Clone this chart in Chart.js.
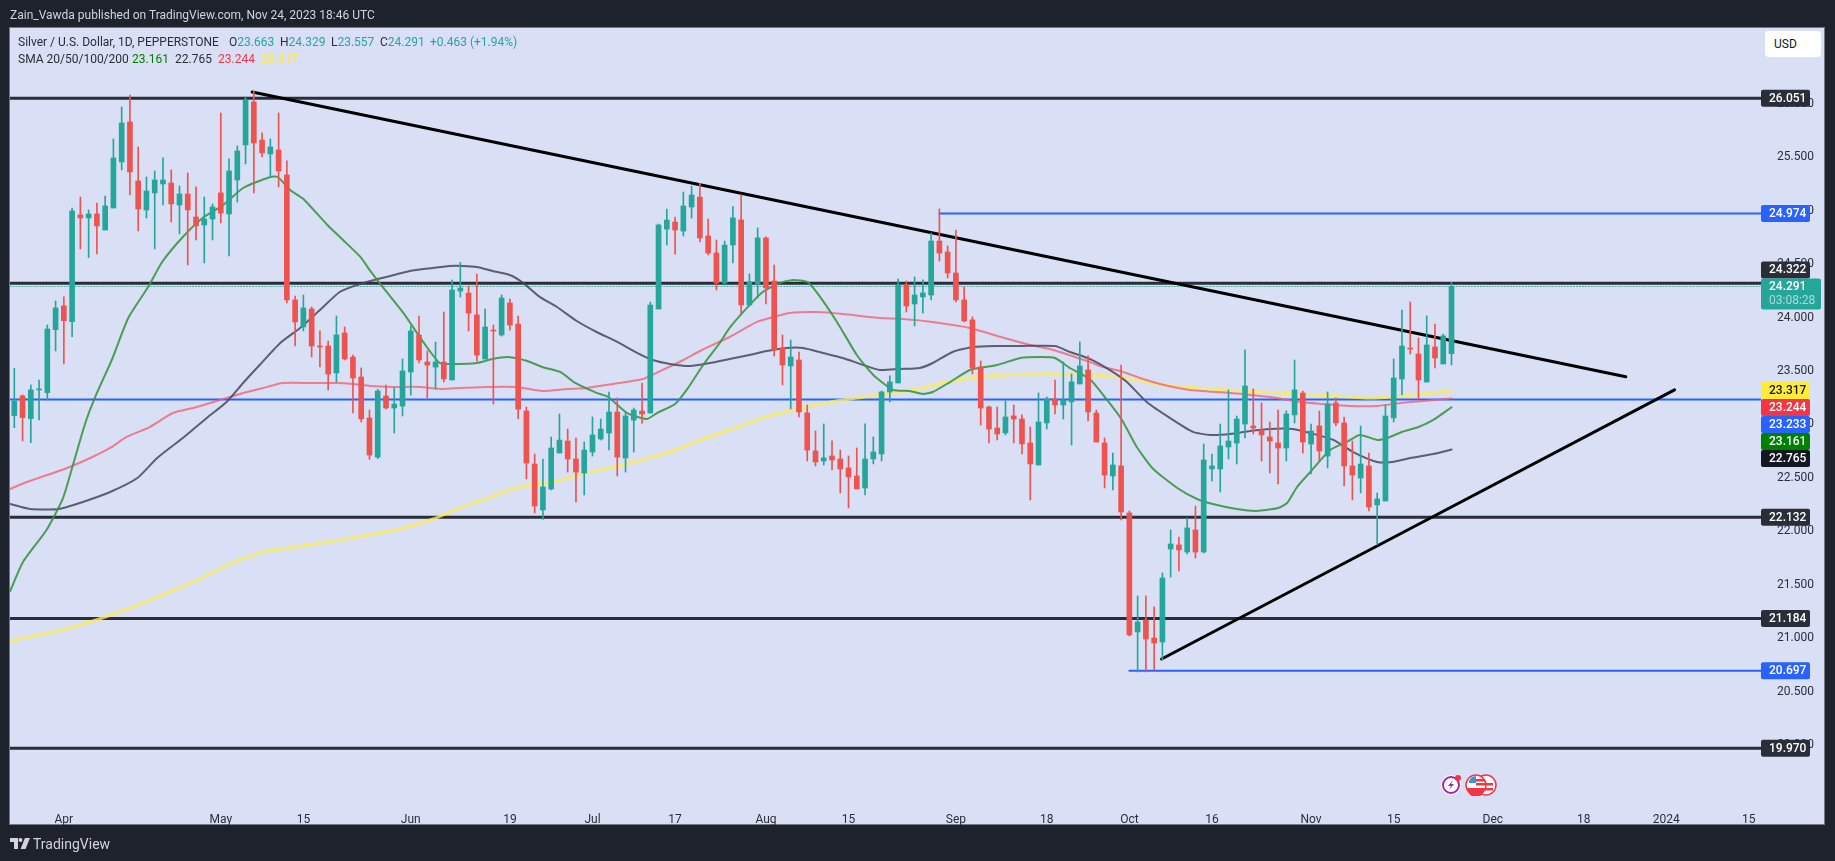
<!DOCTYPE html>
<html lang="en">

<head>
    <meta charset="UTF-8">
    <title>Silver / U.S. Dollar</title>
    <script src="https://cdn.jsdelivr.net/npm/chart.js"></script>
    <style>
        html, body {
            margin: 0;
            padding: 0;
            width: 1835px;
            height: 861px;
            overflow: hidden;
            background: #1e222d;
            font-family: Roboto, sans-serif;
        }

        #frame {
            position: absolute;
            left: 9px;
            top: 27px;
            width: 1816px;
            height: 798px;
            box-sizing: border-box;
            background: #d9dff4;
            border: 1px solid #737684;
        }

        canvas {
            position: absolute;
            left: 0;
            top: 0;
        }

        .txt {
            position: absolute;
            white-space: nowrap;
            font-size: 12px;
            line-height: 16px;
            color: #2a2e39;
        }

        .up {
            color: #26a69a;
        }

        #usd {
            position: absolute;
            left: 1765px;
            top: 31px;
            width: 56px;
            height: 26px;
            box-sizing: border-box;
            padding: 5px 0 0 9px;
            background: #fff;
            border-radius: 4px;
            font-size: 12px;
            line-height: 16px;
            color: #131722;
        }

        svg {
            position: absolute;
        }
    </style>
</head>

<body>
    <div id="frame"></div>
    <canvas id="myChart" width="1835" height="861"></canvas>

    <div class="txt" style="left:10px;top:7px;color:#d1d4dc;">Zain_Vawda published on TradingView.com, Nov 24, 2023 18:46 UTC</div>

    <div class="txt" style="left:18px;top:34px;">Silver / U.S. Dollar, 1D, PEPPERSTONE</div>
    <div class="txt" style="left:229px;top:34px;">O<span class="up">23.663</span></div>
    <div class="txt" style="left:280px;top:34px;">H<span class="up">24.329</span></div>
    <div class="txt" style="left:331px;top:34px;">L<span class="up">23.557</span></div>
    <div class="txt" style="left:380px;top:34px;">C<span class="up">24.291</span></div>
    <div class="txt up" style="left:430px;top:34px;">+0.463 (+1.94%)</div>

    <div class="txt" style="left:18px;top:51px;">SMA 20/50/100/200</div>
    <div class="txt" style="left:132px;top:51px;color:#008000;">23.161</div>
    <div class="txt" style="left:175px;top:51px;">22.765</div>
    <div class="txt" style="left:218px;top:51px;color:#f23645;">23.244</div>
    <div class="txt" style="left:261px;top:51px;color:#ffeb3b;">23.317</div>

    <div id="usd">USD</div>

    <svg style="left:1440px;top:774px;" width="58" height="22" viewBox="0 0 58 22">
        <circle cx="11" cy="11" r="10" fill="#fff" />
        <circle cx="11" cy="11" r="8" fill="none" stroke="#9c27b0" stroke-width="2" />
        <path d="M13 6 L8 12 H11 L9 16 L14 10 H11 Z" fill="#9c27b0" />
        <circle cx="18" cy="4" r="3" fill="#f23645" />
        <circle cx="46" cy="11" r="10" fill="#fff" stroke="#f23645" stroke-width="1.5" />
        <rect x="39" y="9" width="14" height="2.5" fill="#f23645" />
        <rect x="39" y="14" width="14" height="2.5" fill="#f23645" />
        <circle cx="36" cy="11" r="10" fill="#fff" stroke="#f23645" stroke-width="1.5" />
        <path d="M29 7 a9 9 0 0 1 7 -5 v7 h-7 Z" fill="#3d8fe0" />
        <rect x="36" y="5" width="9" height="2.5" fill="#f23645" />
        <rect x="36" y="9" width="10" height="2.5" fill="#f23645" />
        <path d="M27 14 h18 a9 9 0 0 1 -18 0 Z" fill="#f23645" />
    </svg>

    <svg style="left:10px;top:838px;" width="20" height="11" viewBox="0 0 20 11">
        <path d="M0 0 H8 V11 H4 V4 H0 Z" fill="#d1d4dc" />
        <circle cx="10.5" cy="2" r="2" fill="#d1d4dc" />
        <path d="M15 0 H20 L15.5 11 H10.5 Z" fill="#d1d4dc" />
    </svg>
    <div class="txt" style="left:33px;top:836px;color:#d1d4dc;font-size:14px;">TradingView</div>

    <script>

        // daily candles, oldest first
        const opens = [
            23.083, 23.267, 23.055, 23.323, 23.298, 23.887, 24.109, 23.962, 24.960, 24.932,
            24.969, 24.819, 25.025, 25.456, 25.830, 25.278, 25.007, 25.166, 25.250, 25.259,
            25.053, 25.156, 24.941, 24.866, 24.922, 25.166, 24.969, 25.287, 25.615, 26.017,
            25.661, 25.530, 25.568, 25.334, 24.165, 23.912, 24.080, 23.734, 23.734, 23.482,
            23.856, 23.631, 23.444, 23.060, 22.695, 23.266, 23.154, 23.172, 23.491, 23.837,
            23.584, 23.537, 23.584, 23.416, 24.248, 24.229, 24.024, 23.612, 23.883, 23.837,
            24.136, 23.939, 23.126, 22.630, 22.200, 22.396, 22.733, 22.845, 22.677, 22.546,
            22.742, 22.864, 22.920, 23.116, 22.686, 23.041, 23.126, 23.107, 24.080, 24.828,
            24.894, 24.809, 25.034, 25.127, 24.763, 24.604, 24.323, 24.679, 24.913, 24.118,
            24.314, 24.745, 24.342, 23.716, 23.547, 23.603, 23.108, 22.752, 22.659, 22.705,
            22.677, 22.593, 22.518, 22.406, 22.677, 22.724, 23.304, 23.388, 24.305, 24.127,
            24.193, 24.211, 24.716, 24.614, 24.417, 24.165, 23.978, 23.538, 23.164, 22.967,
            22.921, 23.080, 23.051, 22.827, 22.621, 23.014, 23.239, 23.182, 23.211, 23.379,
            23.510, 23.107, 22.827, 22.518, 22.612, 22.172, 21.059, 21.171, 21.003, 20.965,
            21.835, 21.873, 21.807, 22.013, 21.807, 22.584, 22.584, 22.789, 22.827, 23.004,
            22.986, 22.948, 22.883, 22.827, 22.780, 23.089, 23.294, 22.817, 22.986, 22.705,
            23.201, 23.014, 22.612, 22.499, 22.612, 22.247, 22.284, 23.061, 23.425, 23.715,
            23.659, 23.397, 23.725, 23.566, 23.663
        ];
        const highs = [
            23.525, 23.276, 23.370, 23.416, 23.931, 24.155, 24.193, 25.025, 25.128, 25.007,
            25.072, 25.137, 25.671, 25.970, 26.082, 25.596, 25.315, 25.371, 25.493, 25.381,
            25.231, 25.353, 25.222, 25.128, 25.063, 25.914, 25.484, 25.605, 26.064, 26.120,
            25.727, 25.671, 25.914, 25.465, 24.202, 24.211, 24.099, 23.875, 23.781, 24.015,
            23.912, 23.650, 23.529, 23.135, 23.328, 23.369, 23.341, 23.612, 23.921, 24.014,
            23.687, 23.771, 24.052, 24.351, 24.516, 24.295, 24.407, 24.080, 23.930, 24.211,
            24.173, 24.014, 23.163, 22.723, 22.677, 22.882, 23.098, 22.957, 22.873, 22.836,
            23.070, 23.051, 23.303, 23.247, 23.116, 23.154, 23.388, 24.145, 24.875, 25.015,
            24.940, 25.174, 25.230, 25.255, 24.922, 24.725, 24.716, 25.038, 25.147, 24.408,
            24.838, 24.754, 24.492, 23.837, 23.790, 23.678, 23.182, 22.939, 23.005, 22.846,
            22.761, 22.705, 22.780, 23.005, 22.883, 23.313, 23.454, 24.361, 24.342, 24.380,
            24.352, 24.791, 25.016, 24.670, 24.819, 24.286, 24.006, 23.594, 23.173, 23.164,
            23.220, 23.182, 23.089, 22.977, 23.295, 23.257, 23.416, 23.585, 23.472, 23.772,
            23.641, 23.135, 22.874, 22.733, 23.556, 22.191, 21.396, 21.396, 21.293, 21.611,
            22.013, 21.947, 22.125, 22.237, 22.817, 22.724, 23.004, 23.323, 23.079, 23.697,
            23.332, 23.201, 23.023, 23.135, 23.126, 23.603, 23.313, 23.004, 23.126, 23.304,
            23.248, 23.070, 22.845, 22.986, 22.733, 22.359, 23.182, 23.613, 24.071, 24.146,
            23.809, 24.015, 23.940, 23.846, 24.329
        ];
        const lows = [
            22.970, 22.846, 22.830, 23.042, 23.229, 23.688, 23.566, 23.822, 24.642, 24.561,
            24.595, 24.819, 25.025, 25.381, 25.147, 24.810, 24.932, 24.642, 25.053, 24.894,
            24.782, 24.492, 24.726, 24.511, 24.726, 24.885, 24.576, 25.081, 25.437, 25.166,
            25.502, 25.315, 25.222, 24.137, 23.734, 23.875, 23.631, 23.538, 23.323, 23.398,
            23.603, 23.108, 23.023, 22.674, 22.680, 23.144, 22.920, 23.079, 23.275, 23.575,
            23.247, 23.331, 23.397, 23.416, 24.192, 23.874, 23.593, 23.612, 23.191, 23.827,
            23.883, 23.051, 22.490, 22.172, 22.112, 22.387, 22.733, 22.555, 22.274, 22.340,
            22.705, 22.854, 22.761, 22.518, 22.555, 22.742, 23.013, 23.107, 24.080, 24.678,
            24.594, 24.763, 24.931, 24.707, 24.585, 24.258, 24.304, 24.511, 24.034, 24.108,
            24.183, 24.127, 23.641, 23.370, 23.145, 23.070, 22.659, 22.612, 22.621, 22.574,
            22.359, 22.219, 22.397, 22.341, 22.631, 22.659, 23.211, 23.388, 24.052, 23.921,
            24.043, 24.165, 24.529, 24.370, 24.146, 23.959, 23.472, 22.995, 22.827, 22.855,
            22.902, 22.827, 22.724, 22.294, 22.621, 22.958, 23.098, 23.051, 22.808, 23.379,
            23.033, 22.836, 22.406, 22.387, 22.106, 21.021, 20.685, 20.685, 20.703, 20.797,
            21.573, 21.629, 21.788, 21.751, 21.798, 22.471, 22.368, 22.677, 22.630, 22.874,
            22.911, 22.658, 22.546, 22.443, 22.658, 23.014, 22.733, 22.537, 22.658, 22.593,
            22.986, 22.425, 22.294, 22.359, 22.191, 21.873, 22.284, 23.023, 23.276, 23.659,
            23.238, 23.397, 23.528, 23.566, 23.557
        ];
        const closes = [
            23.220, 23.064, 23.323, 23.332, 23.893, 24.090, 23.971, 24.997, 24.932, 24.969,
            24.857, 25.044, 25.493, 25.820, 25.362, 25.016, 25.184, 25.287, 25.287, 25.063,
            25.156, 25.007, 24.857, 24.922, 25.035, 24.978, 25.371, 25.558, 26.035, 25.633,
            25.540, 25.596, 25.371, 24.165, 23.959, 24.090, 23.734, 23.725, 23.472, 23.837,
            23.613, 23.435, 23.052, 22.714, 23.313, 23.154, 23.191, 23.500, 23.874, 23.603,
            23.556, 23.584, 23.425, 24.258, 24.276, 24.042, 23.650, 23.911, 23.874, 24.183,
            23.930, 23.144, 22.639, 22.237, 22.415, 22.780, 22.854, 22.677, 22.555, 22.761,
            22.901, 22.957, 23.116, 22.695, 23.079, 23.135, 23.098, 24.117, 24.866, 24.912,
            24.819, 25.043, 25.146, 24.744, 24.604, 24.323, 24.678, 24.932, 24.118, 24.333,
            24.745, 24.277, 23.697, 23.557, 23.631, 23.117, 22.761, 22.649, 22.687, 22.668,
            22.584, 22.509, 22.397, 22.677, 22.743, 23.304, 23.398, 24.305, 24.108, 24.211,
            24.230, 24.716, 24.604, 24.417, 24.165, 23.968, 23.529, 23.154, 22.958, 22.911,
            23.070, 23.051, 22.818, 22.631, 23.023, 23.239, 23.182, 23.229, 23.398, 23.547,
            23.117, 22.836, 22.527, 22.621, 22.181, 21.031, 21.152, 20.993, 20.956, 21.564,
            21.882, 21.826, 22.032, 21.807, 22.668, 22.612, 22.799, 22.845, 23.051, 23.360,
            22.967, 22.902, 22.845, 22.780, 23.098, 23.323, 22.836, 22.939, 22.752, 23.192,
            23.014, 22.612, 22.527, 22.630, 22.228, 22.303, 23.079, 23.435, 23.734, 23.706,
            23.416, 23.743, 23.622, 23.828, 24.291
        ];

        // moving averages at the listed bar positions
        const sma20Bars = [-0.5, 1.05, 3.9, 5.9, 7.1, 8.6, 9.9, 11.8, 13.8, 16.2, 17.9, 20.4, 22.8, 25.3, 27.7, 31, 31.9, 33.4, 35, 37.9, 39.8, 41.9, 43.1, 44.6, 47.1, 49.5, 51.5, 53.1, 56, 57.9, 59.8, 62.1, 63.9, 66.1, 67.9, 70.5, 71.9, 74.2, 76.6, 77.8, 80, 81.4, 83.4, 85.4, 86.6, 88.7, 90.6, 92.7, 94.3, 96, 97.2, 99.6, 102, 104, 106.4, 108.4, 110, 111.2, 113.3, 115.7, 119, 121.8, 124.2, 126, 127.8, 130.2, 132.3, 134.1, 135.9, 137.9, 140.8, 143.2, 145.1, 148, 150.4, 153, 154.1, 155.3, 156.9, 159.3, 161.3, 162.9, 165, 166.2, 168, 170, 171.8, 174];
        const sma20 = [21.442, 21.714, 22.013, 22.312, 22.621, 23.014, 23.276, 23.603, 23.996, 24.286, 24.520, 24.754, 24.932, 25.053, 25.212, 25.315, 25.315, 25.194, 25.109, 24.866, 24.726, 24.567, 24.436, 24.286, 24.043, 23.772, 23.575, 23.566, 23.575, 23.613, 23.631, 23.594, 23.538, 23.491, 23.388, 23.295, 23.257, 23.107, 23.051, 23.107, 23.192, 23.323, 23.556, 23.762, 23.903, 24.090, 24.239, 24.324, 24.352, 24.333, 24.230, 23.959, 23.650, 23.463, 23.323, 23.313, 23.285, 23.304, 23.397, 23.510, 23.556, 23.622, 23.631, 23.622, 23.528, 23.425, 23.229, 23.042, 22.789, 22.583, 22.406, 22.303, 22.256, 22.209, 22.191, 22.219, 22.265, 22.415, 22.555, 22.761, 22.836, 22.902, 22.855, 22.873, 22.930, 22.976, 23.042, 23.161];

        const sma50Bars = [-0.5, 1.9, 5.4, 8.3, 11.6, 14.9, 17.3, 20.4, 23.3, 25.7, 27.7, 29.7, 32.2, 34.6, 37, 39.4, 41.5, 43.1, 45.5, 47.9, 50.7, 52.7, 54.3, 56, 57.9, 60, 61.6, 63.6, 65.7, 68.1, 70.5, 73, 75.4, 77.3, 79.4, 81.8, 84.2, 86.6, 89, 91.1, 93.5, 95.5, 97.9, 100.3, 102.8, 104.8, 107.2, 109.6, 111.2, 113.6, 116.1, 119, 121.8, 126, 127.8, 130.2, 132.6, 134.7, 137.1, 139.9, 142.7, 144.8, 147.2, 149.6, 152, 154.8, 156.9, 159.7, 162.1, 165, 166.8, 169, 171.8, 174];
        const sma50 = [22.256, 22.209, 22.209, 22.275, 22.368, 22.499, 22.686, 22.873, 23.061, 23.210, 23.388, 23.556, 23.762, 23.903, 24.071, 24.239, 24.305, 24.342, 24.389, 24.436, 24.464, 24.483, 24.483, 24.473, 24.436, 24.398, 24.324, 24.193, 24.099, 23.968, 23.865, 23.772, 23.669, 23.603, 23.566, 23.547, 23.575, 23.613, 23.650, 23.687, 23.715, 23.715, 23.669, 23.622, 23.556, 23.510, 23.519, 23.528, 23.575, 23.678, 23.725, 23.734, 23.734, 23.734, 23.678, 23.613, 23.510, 23.397, 23.210, 23.061, 22.930, 22.902, 22.911, 22.939, 22.958, 22.958, 22.920, 22.855, 22.742, 22.649, 22.649, 22.686, 22.724, 22.765];

        const sma100Bars = [-0.5, 1.5, 4, 6.4, 9.2, 11.6, 13.6, 16.4, 19.2, 22.1, 24.9, 27.7, 30.1, 32.5, 35.8, 39.1, 41, 43.1, 45.8, 49.1, 51.8, 54, 57.2, 60.8, 63.9, 66.9, 69.3, 72.5, 76.1, 78.5, 81, 83, 86.6, 89.9, 91.9, 93.9, 97.2, 100.3, 104.8, 107.6, 111.2, 115.7, 119, 123, 125.8, 130.2, 131.8, 133.9, 136.3, 138.7, 142.3, 147.2, 152, 155.7, 158.4, 161.7, 165, 167.8, 170.6, 174];
        const sma100 = [22.396, 22.462, 22.527, 22.593, 22.686, 22.780, 22.883, 22.976, 23.107, 23.164, 23.229, 23.295, 23.341, 23.388, 23.388, 23.388, 23.379, 23.360, 23.351, 23.351, 23.332, 23.341, 23.351, 23.351, 23.313, 23.332, 23.341, 23.379, 23.425, 23.510, 23.603, 23.687, 23.818, 23.959, 24.005, 24.043, 24.052, 24.034, 23.996, 23.987, 23.959, 23.903, 23.828, 23.744, 23.697, 23.585, 23.538, 23.500, 23.435, 23.379, 23.323, 23.295, 23.257, 23.210, 23.192, 23.173, 23.173, 23.201, 23.220, 23.244];

        const sma200Bars = [-0.5, 6.7, 12.4, 16.7, 21.6, 26.6, 30.1, 36.5, 40.8, 46.1, 50.7, 53.6, 56.7, 60, 62.4, 65.7, 68.8, 72.1, 75.4, 79.4, 83.4, 86.6, 90.6, 94.8, 98.8, 102.8, 106.9, 110, 112.9, 115.7, 119.7, 125, 130.2, 133.9, 138.3, 143.2, 148.8, 155.3, 160.1, 164.1, 166.6, 170.6, 174];
        const sma200 = [20.974, 21.096, 21.236, 21.367, 21.526, 21.713, 21.807, 21.882, 21.938, 22.013, 22.116, 22.209, 22.293, 22.387, 22.434, 22.471, 22.537, 22.593, 22.658, 22.742, 22.864, 22.948, 23.061, 23.145, 23.210, 23.257, 23.304, 23.341, 23.397, 23.435, 23.463, 23.472, 23.463, 23.444, 23.379, 23.341, 23.313, 23.285, 23.266, 23.248, 23.257, 23.285, 23.317];

        // drawn levels and trend lines
        const blackLevels = [26.051, 24.322, 22.132, 21.184, 19.970];
        const midLevel = 23.233;
        const resistanceLevel = 24.974;
        const resistanceStartBar = 112;
        const supportLevel = 20.697;
        const supportStartBar = 135;
        const lastClose = 24.291;
        const fallingTrendBars = [28.8, 195.1];
        const fallingTrend = [26.110, 23.447];
        const risingTrendBars = [138.9, 201];
        const risingTrend = [20.806, 23.323];

        // axes
        const tickBars = [6, 25, 35, 48, 60, 70, 80, 91, 101, 114, 125, 135, 145, 157, 167, 179, 190, 200, 210];
        const tickLabels = ['Apr', 'May', '15', 'Jun', '19', 'Jul', '17', 'Aug', '15', 'Sep', '18', 'Oct', '16', 'Nov', '15', 'Dec', '18', '2024', '15'];
        const priceTicks = [26, 25.5, 25, 24.5, 24, 23.5, 23, 22.5, 22, 21.5, 21, 20.5, 20];

        // price tags on the right, cluster is pushed down so it does not overlap
        const levelTags = [26.051, 24.974, 22.132, 21.184, 20.697, 19.970];
        const levelTagColors = ['#2a2e39', '#2962ff', '#2a2e39', '#2a2e39', '#2962ff', '#2a2e39'];
        const stackedTags = [23.317, 23.244, 23.233, 23.161, 22.765];
        const stackedTagColors = ['#ffeb3b', '#f23645', '#2962ff', '#008000', '#131722'];
        const stackedTagText = ['#131722', '#fff', '#fff', '#fff', '#fff'];
        const countdown = '03:08:28';

        const xMin = -0.52;
        const xMax = 211.47;
        const yMin = 19.487;
        const yMax = 26.718;
        const UP = '#26a69a';
        const DOWN = '#ef5350';

        const bars = closes.map((c, i) => i);
        const candleColors = closes.map((c, i) => (c >= opens[i] ? UP : DOWN));

        function zip(xs, ys) {
            return xs.map((x, i) => ({ x: x, y: ys[i] }));
        }

        function level(value, startBar) {
            return [{ x: startBar, y: value }, { x: xMax, y: value }];
        }

        function lineSet(data, color, width, order, dash) {
            return {
                type: 'line',
                data: data,
                borderColor: color,
                borderWidth: width,
                borderDash: dash || [],
                borderCapStyle: 'round',
                pointRadius: 0,
                tension: 0.2,
                order: order
            };
        }

        const tagsPlugin = {
            id: 'tags',
            afterDraw(chart) {
                const ctx = chart.ctx;
                const y = chart.scales.y;
                const left = chart.chartArea.right;
                const h = 17;

                function tag(center, text, bg, fg) {
                    ctx.fillStyle = bg;
                    ctx.beginPath();
                    ctx.roundRect(left, center - h / 2, 49, h, 2);
                    ctx.fill();
                    ctx.fillStyle = fg;
                    ctx.font = '500 12px Roboto, sans-serif';
                    ctx.textBaseline = 'middle';
                    ctx.textAlign = 'left';
                    ctx.fillText(text, left + 8, center + 0.5);
                }

                levelTags.forEach((v, i) => tag(y.getPixelForValue(v), v.toFixed(3), levelTagColors[i], '#fff'));

                let prev = -1000;
                stackedTags.forEach((v, i) => {
                    const center = Math.max(y.getPixelForValue(v), prev + h);
                    tag(center, v.toFixed(3), stackedTagColors[i], stackedTagText[i]);
                    prev = center;
                });

                // last price box with countdown, the 24.322 level sits on top of it
                const top = y.getPixelForValue(lastClose) - 8;
                tag(top - h / 2, blackLevels[1].toFixed(3), '#2a2e39', '#fff');
                ctx.fillStyle = UP;
                ctx.beginPath();
                ctx.roundRect(left, top, 60, 31, 2);
                ctx.fill();
                ctx.fillStyle = '#fff';
                ctx.font = '500 12px Roboto, sans-serif';
                ctx.fillText(lastClose.toFixed(3), left + 8, top + 9);
                ctx.fillStyle = 'rgba(255,255,255,0.6)';
                ctx.font = '12px Roboto, sans-serif';
                ctx.fillText(countdown, left + 8, top + 23);
            }
        };

        const ctx = document.getElementById('myChart').getContext('2d');

        const chart = new Chart(ctx, {
            type: 'bar',
            plugins: [tagsPlugin],
            data: {
                datasets: [
                    // candles on top of everything else
                    {
                        data: bars.map(i => ({ x: i, y: [opens[i], closes[i]] })),
                        backgroundColor: candleColors,
                        barThickness: 5,
                        minBarLength: 1,
                        grouped: false,
                        order: 1
                    },
                    {
                        data: bars.map(i => ({ x: i, y: [lows[i], highs[i]] })),
                        backgroundColor: candleColors,
                        barThickness: 1,
                        grouped: false,
                        order: 2
                    },
                    lineSet(zip(sma20Bars, sma20), 'rgba(56,150,66,0.9)', 2, 3),
                    lineSet(zip(sma50Bars, sma50), 'rgba(70,72,90,0.85)', 2, 4),
                    lineSet(zip(sma100Bars, sma100), 'rgba(240,100,120,0.8)', 2, 5),
                    lineSet(zip(sma200Bars, sma200), 'rgba(250,235,90,0.8)', 3, 6),
                    lineSet(zip(fallingTrendBars, fallingTrend), '#000', 3, 7),
                    lineSet(zip(risingTrendBars, risingTrend), '#000', 3, 8),
                    ...blackLevels.map(v => lineSet(level(v, xMin), '#2a2e39', 3, 9)),
                    lineSet(level(midLevel, xMin), '#2962ff', 2, 10),
                    lineSet(level(resistanceLevel, resistanceStartBar), '#2962ff', 2, 11),
                    lineSet(level(supportLevel, supportStartBar), '#2962ff', 2, 12),
                    lineSet(level(lastClose, xMin), UP, 1, 13, [1, 2])
                ]
            },
            options: {
                responsive: false,
                animation: false,
                devicePixelRatio: 1,
                layout: {
                    padding: { left: 10, top: 27, right: 10, bottom: 36 }
                },
                plugins: {
                    legend: { display: false },
                    tooltip: { enabled: false }
                },
                scales: {
                    x: {
                        type: 'linear',
                        offset: false,
                        min: xMin,
                        max: xMax,
                        afterBuildTicks: scale => { scale.ticks = tickBars.map(v => ({ value: v })); },
                        afterFit: scale => {
                            scale.height = 25;
                            scale.paddingLeft = 0;
                            scale.paddingRight = 0;
                        },
                        grid: { display: false },
                        border: { display: false },
                        ticks: {
                            autoSkip: false,
                            maxRotation: 0,
                            padding: 5,
                            color: '#2a2e39',
                            font: { family: 'Roboto, sans-serif', size: 12 },
                            callback: (value, index) => tickLabels[index]
                        }
                    },
                    y: {
                        position: 'right',
                        min: yMin,
                        max: yMax,
                        afterBuildTicks: scale => { scale.ticks = priceTicks.map(v => ({ value: v })); },
                        afterFit: scale => {
                            scale.width = 64;
                            scale.paddingTop = 0;
                            scale.paddingBottom = 0;
                        },
                        grid: { display: false },
                        border: { display: false },
                        ticks: {
                            autoSkip: false,
                            padding: 8,
                            color: '#2a2e39',
                            font: { family: 'Roboto, sans-serif', size: 12 },
                            callback: value => value.toFixed(3)
                        }
                    }
                }
            }
        });
    </script>

</body>

</html>
